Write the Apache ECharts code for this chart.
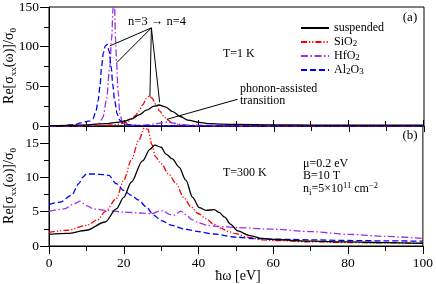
<!DOCTYPE html>
<html><head><meta charset="utf-8">
<script src="https://cdn.jsdelivr.net/npm/echarts@6/dist/echarts.min.js"></script>
<style>html,body{margin:0;padding:0;background:#fff}#c{width:436px;height:284px}</style>
</head><body><div id="c"></div>
<script>
const FONT = '"Liberation Serif","Times New Roman",serif';

// ---------- Panel (a): T = 1 K ----------
const aSuspX = [0, 5, 10, 15, 18, 20, 22, 24, 26, 28, 29.3, 31, 33, 35, 37, 40, 43, 46, 50, 60, 70, 80, 90, 100];
const aSuspY = [0.5, 0.8, 1.5, 3, 4.5, 6, 9, 14, 20, 25, 26.5, 24, 18, 12, 7.5, 4.5, 3, 2.3, 2, 1.5, 1.2, 1, 1, 1];

const aSiX = [0, 10, 15, 18, 20, 21, 22, 23, 24, 25, 26, 26.8, 27.5, 28.5, 29.5, 30.5, 31.5, 33, 35, 38, 45, 60, 100];
const aSiY = [0, 0.3, 0.8, 1.8, 3.5, 5.5, 8.5, 13, 19, 27, 35, 38, 35, 27, 19, 13, 8, 3.5, 1.2, 0.3, 0, 0, 0];

const aHfX = [0, 8, 12, 13.5, 14.4, 15.3, 16.2, 16.7, 17.1, 17.3, 17.5, 17.75, 18, 18.4, 18.9, 19.6, 20.5, 22, 25, 28, 30, 31.5, 33, 35, 38, 45, 60, 100];
const aHfY = [0, 0.2, 1, 4, 11, 32, 74, 110, 150, 170, 150, 110, 82, 45, 15.5, 4, 2, 1, 1, 2.5, 4, 5, 4, 2, 1, 0.5, 0.3, 0.2];

const aAlX = [0, 4, 7, 8.5, 10, 11, 11.7, 12.5, 13.1, 13.6, 14.0, 14.5, 15, 15.5, 16, 16.6, 17, 17.5, 18.2, 18.9, 20, 22, 25, 30, 40, 60, 100];
const aAlY = [0, 0.5, 2, 4, 5.5, 6.5, 9, 18, 32, 50, 74, 92, 101, 103, 95, 74, 52, 32, 15, 7, 3, 1, 0.3, 0, 0, 0, 0];

// ---------- Panel (b): T = 300 K ----------
const bSuspX = [0, 5, 10, 15, 18, 20, 22, 25, 27, 28.3, 30, 31.3, 33, 34.8, 36.6, 38.4, 40.2, 42, 44.2, 45.5, 47, 48.5, 50.5, 53.5, 57, 60, 70, 80, 90, 100];
const bSuspY = [1.7, 1.85, 2.3, 3.5, 5.4, 7.1, 9.3, 12.4, 14.1, 14.7, 14.4, 13.4, 12.7, 11.5, 9.6, 7.1, 5.6, 5.2, 5.3, 4.9, 4.2, 3.2, 2.2, 1.55, 1.1, 0.95, 0.7, 0.6, 0.5, 0.4];

const bSiX = [0, 5, 10, 13, 15, 18, 20, 22, 24, 25.5, 26.5, 27.5, 28.5, 30, 32, 34, 36, 38, 40, 42, 44, 46, 48, 50, 53, 57, 60, 70, 80, 90, 100];
const bSiY = [2.0, 2.3, 3.0, 3.8, 5.0, 6.9, 9.6, 12.5, 15.4, 17.2, 17.0, 14.8, 13.0, 12.0, 10.5, 9.1, 7.1, 5.7, 4.7, 4.0, 3.2, 2.6, 2.1, 1.8, 1.3, 0.9, 0.8, 0.6, 0.5, 0.45, 0.4];

const bHfX = [0, 4, 7, 8.3, 10, 12, 15, 20, 25, 27.5, 29.5, 30.5, 32.2, 33.5, 35.3, 36.5, 38.4, 40, 42.5, 45, 50, 58, 60, 70, 80, 90, 100];
const bHfY = [5.05, 5.4, 6.2, 6.55, 5.9, 5.4, 5.2, 4.95, 4.8, 4.7, 5.1, 5.15, 4.6, 4.5, 5.1, 4.6, 3.8, 3.4, 3.0, 2.85, 2.7, 2.5, 2.45, 2.1, 1.7, 1.4, 1.1];

const bAlX = [0, 3, 6, 8, 9, 10, 12, 15, 16, 18, 20, 22, 24, 26, 28, 30, 33, 36, 40, 44, 50, 55, 60, 70, 80, 90, 100];
const bAlY = [6.05, 6.4, 7.4, 9.1, 10.0, 10.5, 10.5, 10.4, 10.3, 9.1, 8.1, 7.4, 6.7, 5.7, 4.5, 3.7, 3.0, 2.5, 2.1, 1.75, 1.3, 1.07, 1.0, 0.9, 0.8, 0.75, 0.7];

// ---------- ticks ----------
const xTickStep = 20;
const aYTickStep = 50;
const bYTicks = [0, 5, 10, 15];
const bYMinorTicks = [2.5, 7.5, 12.5, 17.5];

// annotation arrows (data coordinates of panel a)
const nArrowFrom = [27.3, 123.7];
const nArrowTo = [[16.2, 100.9], [18.1, 80], [26.9, 37.1], [29.5, 30]];
const phArrow = [[50.3, 33.7], [31.4, 8.4]];

const pairs = (xs, ys) => xs.map((x, i) => [x, ys[i]]);

const C = { susp: '#000000', si: '#ff0000', hf: '#9b30e8', al: '#0000ff' };
const D = { susp: 'solid', si: [6, 2, 1.2, 2, 1.2, 2], hf: [7, 2.5, 1.5, 2.5], al: [6, 3] };

function ser(name, key, xs, ys, gi, extra) {
  return Object.assign({
    name, type: 'line', xAxisIndex: gi, yAxisIndex: gi,
    data: pairs(xs, ys), symbol: 'none', showSymbol: false,
    smooth: 0.3, smoothMonotone: 'x', clip: true, animation: false,
    lineStyle: { color: C[key], width: 1.3, type: D[key] },
    itemStyle: { color: C[key] }, z: key === 'susp' ? 5 : 3
  }, extra || {});
}

const axLine = { show: true, onZero: false, lineStyle: { color: '#000', width: 1 } };
const tickSt = { color: '#000', width: 1 };
const lbl = { color: '#000', fontFamily: FONT, fontSize: 13.5 };

const arrowLines = nArrowTo.map(t => [{ coord: nArrowFrom }, { coord: t }]);
arrowLines.push([{ coord: phArrow[0] }, { coord: phArrow[1] }]);

const sub = { fontSize: 9, verticalAlign: 'bottom', lineHeight: 9, fontFamily: FONT, fill: '#000', color: '#000' };
const sup = { fontSize: 8.5, verticalAlign: 'top', lineHeight: 8, fontFamily: FONT, fill: '#000', color: '#000' };

function txt(x, y, text, size, opts) {
  return Object.assign({
    type: 'text', x, y, silent: true, z: 10,
    style: Object.assign({ text, fontFamily: FONT, fontSize: size, fill: '#000', align: 'left', verticalAlign: 'middle', lineHeight: size + 4, rich: { s: sub, p: sup } }, (opts && opts.style) || {})
  }, opts ? { rotation: opts.rotation || 0 } : {});
}

const option = {
  backgroundColor: '#fff',
  animation: false,
  grid: [
    { left: 49, right: 12, top: 6, height: 120, show: true, borderColor: '#000', borderWidth: 1, backgroundColor: 'transparent' },
    { left: 49, right: 12, top: 126, height: 120, show: true, borderColor: '#000', borderWidth: 1, backgroundColor: 'transparent' }
  ],
  xAxis: [
    { gridIndex: 0, type: 'value', min: 0, max: 100, interval: xTickStep, axisLine: axLine,
      axisTick: { show: true, length: 6, lineStyle: tickSt },
      minorTick: { show: true, splitNumber: 2, length: 5, lineStyle: tickSt },
      axisLabel: { show: false }, splitLine: { show: false } },
    { gridIndex: 1, type: 'value', min: 0, max: 100, interval: xTickStep, position: 'bottom', axisLine: axLine,
      axisTick: { show: true, length: 8, lineStyle: tickSt },
      minorTick: { show: true, splitNumber: 2, length: 5, lineStyle: tickSt },
      axisLabel: Object.assign({ margin: 10 }, lbl), splitLine: { show: false } },
    { gridIndex: 1, type: 'value', min: 0, max: 100, interval: xTickStep, position: 'top', axisLine: axLine,
      axisTick: { show: true, length: 6, lineStyle: tickSt },
      minorTick: { show: true, splitNumber: 2, length: 5, lineStyle: tickSt },
      axisLabel: { show: false }, splitLine: { show: false } }
  ],
  yAxis: [
    { gridIndex: 0, type: 'value', min: 0, max: 150, interval: aYTickStep, axisLine: axLine,
      axisTick: { show: true, length: 9, lineStyle: tickSt },
      minorTick: { show: true, splitNumber: 2, length: 5, lineStyle: tickSt },
      axisLabel: Object.assign({ margin: 10 }, lbl), splitLine: { show: false } },
    { gridIndex: 1, type: 'value', min: 0, max: 17.5, position: 'left', axisLine: axLine,
      axisTick: { show: true, length: 9, lineStyle: tickSt, customValues: bYTicks },
      axisLabel: Object.assign({ margin: 10, customValues: bYTicks }, lbl), splitLine: { show: false } },
    { gridIndex: 1, type: 'value', min: 0, max: 17.5, position: 'left', offset: 0, axisLine: axLine,
      axisTick: { show: true, length: 5, lineStyle: tickSt, customValues: bYMinorTicks },
      axisLabel: { show: false, customValues: bYMinorTicks }, splitLine: { show: false } }
  ],
  legend: {
    orient: 'vertical', left: 295, top: 17, itemWidth: 28, itemHeight: 10, itemGap: 2,
    data: ['suspended', 'SiO2', 'HfO2', 'Al2O3'],
    itemStyle: { opacity: 0, color: 'transparent', borderWidth: 0 },
    formatter: n => ({ suspended: 'suspended', SiO2: 'SiO{s|2}', HfO2: 'HfO{s|2}', Al2O3: 'Al{s|2}O{s|3}' })[n],
    textStyle: { fontFamily: FONT, fontSize: 12, color: '#000', lineHeight: 12, rich: { s: sub } },
    selectedMode: false
  },
  series: [
    ser('suspended', 'susp', aSuspX, aSuspY, 0, {
      markLine: { silent: true, symbol: ['none', 'arrow'], symbolSize: [0, 7], animation: false,
        label: { show: false }, lineStyle: { color: '#000', width: 1, type: 'solid' }, data: arrowLines }
    }),
    ser('SiO2', 'si', aSiX, aSiY, 0),
    ser('HfO2', 'hf', aHfX, aHfY, 0),
    ser('Al2O3', 'al', aAlX, aAlY, 0),
    { ...ser('suspended', 'susp', bSuspX, bSuspY, 0), xAxisIndex: 1, yAxisIndex: 1 },
    { ...ser('SiO2', 'si', bSiX, bSiY, 0), xAxisIndex: 1, yAxisIndex: 1 },
    { ...ser('HfO2', 'hf', bHfX, bHfY, 0), xAxisIndex: 1, yAxisIndex: 1 },
    { ...ser('Al2O3', 'al', bAlX, bAlY, 0), xAxisIndex: 1, yAxisIndex: 1 }
  ],
  graphic: [
    txt(9, 66, 'Re[σ{s|xx}(ω)]/σ{s|0}', 14, { rotation: Math.PI / 2, style: { align: 'center' } }),
    txt(9, 186, 'Re[σ{s|xx}(ω)]/σ{s|0}', 14, { rotation: Math.PI / 2, style: { align: 'center' } }),
    txt(238, 276, 'ħω [eV]', 14, { style: { align: 'center' } }),
    txt(410, 18, '(a)', 13, { style: { align: 'center' } }),
    txt(410, 136, '(b)', 13, { style: { align: 'center' } }),
    txt(157, 22, 'n=3 → n=4', 12.5, { style: { align: 'center' } }),
    txt(240, 89, 'phonon-assisted', 12),
    txt(240, 101, 'transition', 12),
    txt(223, 54, 'T=1 K', 12),
    txt(223, 173, 'T=300 K', 12),
    txt(303, 164, 'μ=0.2 eV', 12),
    txt(303, 176, 'B=10 T', 12),
    txt(303, 189, 'n{s|i}=5×10{p|11} cm{p|−2}', 12)
  ]
};

const chart = echarts.init(document.getElementById('c'), null, { renderer: 'canvas' });
chart.setOption(option);
</script>
</body></html>
